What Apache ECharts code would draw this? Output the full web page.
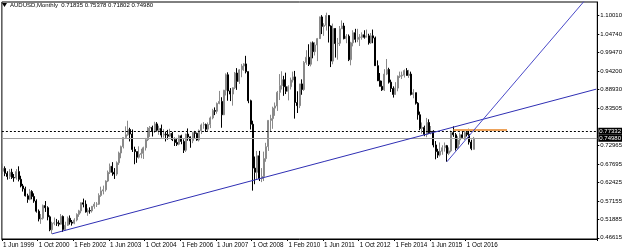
<!DOCTYPE html>
<html>
<head>
<meta charset="utf-8">
<script src="https://cdn.jsdelivr.net/npm/echarts@6/dist/echarts.min.js"></script>
<style>
html, body { margin: 0; padding: 0; background: #fff; }
#main { width: 625px; height: 252px; }
</style>
</head>
<body>
<div id="main"></div>
<script>
// AUDUSD monthly, Jun 1999 .. Jan 2017 (one row per year)
var opens = [
    0.656,0.664,0.650,0.641,0.653,0.638,0.637,
    0.655,0.633,0.614,0.606,0.586,0.576,0.598,0.584,0.571,0.542,0.520,0.522,
    0.558,0.552,0.526,0.489,0.508,0.509,0.508,0.505,0.527,0.490,0.502,0.522,
    0.511,0.508,0.517,0.533,0.543,0.566,0.562,0.540,0.544,0.543,0.556,0.562,
    0.562,0.587,0.600,0.603,0.628,0.653,0.670,0.653,0.648,0.680,0.708,0.726,
    0.752,0.760,0.775,0.762,0.718,0.712,0.696,0.704,0.707,0.723,0.746,0.779,
    0.781,0.771,0.791,0.773,0.778,0.759,0.762,0.760,0.756,0.764,0.746,0.738,
    0.733,0.757,0.741,0.716,0.762,0.754,0.743,0.766,0.764,0.745,0.772,0.788,
    0.789,0.776,0.789,0.808,0.829,0.827,0.849,0.855,0.817,0.887,0.931,0.885,
    0.876,0.894,0.936,0.912,0.945,0.956,0.962,0.940,0.857,0.790,0.665,0.653,
    0.700,0.635,0.641,0.692,0.726,0.801,0.806,0.836,0.842,0.881,0.900,0.917,
    0.897,0.884,0.897,0.916,0.925,0.852,0.843,0.905,0.889,0.966,0.981,0.961,
    1.022,0.997,1.016,1.034,1.096,1.069,1.072,1.100,1.070,0.970,1.063,1.020,
    1.021,1.062,1.070,1.034,1.041,0.974,1.022,1.051,1.032,1.038,1.038,1.045,
    1.038,1.042,1.022,1.042,1.036,0.957,0.914,0.898,0.888,0.933,0.946,0.910,
    0.892,0.875,0.893,0.927,0.928,0.930,0.943,0.929,0.933,0.875,0.880,0.850,
    0.817,0.778,0.781,0.761,0.795,0.766,0.770,0.731,0.712,0.702,0.713,0.723,
    0.729,0.707,0.714,0.766,0.760,0.722,0.745,0.760,0.752,0.766,0.761,0.739,
    0.71835
];
var highs = [
    0.678,0.670,0.656,0.662,0.663,0.648,0.662,
    0.670,0.643,0.620,0.612,0.592,0.605,0.602,0.593,0.576,0.547,0.534,0.561,
    0.571,0.556,0.530,0.512,0.524,0.520,0.516,0.534,0.530,0.512,0.527,0.530,
    0.517,0.522,0.536,0.546,0.567,0.578,0.573,0.550,0.553,0.557,0.568,0.568,
    0.593,0.612,0.615,0.630,0.658,0.678,0.682,0.665,0.684,0.712,0.729,0.753,
    0.784,0.800,0.780,0.775,0.726,0.712,0.727,0.720,0.726,0.751,0.782,0.785,
    0.786,0.797,0.796,0.786,0.789,0.776,0.769,0.774,0.777,0.768,0.752,0.751,
    0.760,0.760,0.747,0.763,0.778,0.755,0.768,0.771,0.766,0.775,0.792,0.796,
    0.792,0.795,0.812,0.834,0.838,0.852,0.885,0.867,0.888,0.935,0.938,0.893,
    0.895,0.939,0.950,0.947,0.962,0.964,0.985,0.940,0.860,0.800,0.698,0.714,
    0.714,0.665,0.712,0.737,0.802,0.817,0.840,0.852,0.885,0.933,0.941,0.928,
    0.937,0.901,0.923,0.940,0.942,0.884,0.905,0.918,0.970,1.001,1.018,1.025,
    1.026,1.024,1.036,1.097,1.101,1.078,1.108,1.101,1.072,1.077,1.064,1.036,
    1.070,1.086,1.079,1.047,1.046,1.025,1.058,1.062,1.062,1.047,1.052,1.058,
    1.060,1.048,1.050,1.060,1.040,0.972,0.936,0.914,0.947,0.976,0.951,0.917,
    0.898,0.910,0.929,0.940,0.940,0.946,0.950,0.945,0.940,0.890,0.880,0.853,
    0.826,0.795,0.786,0.808,0.804,0.785,0.773,0.742,0.720,0.738,0.730,0.738,
    0.731,0.724,0.772,0.784,0.765,0.756,0.766,0.776,0.773,0.773,0.777,0.746,
    0.75378
];
var lows = [
    0.648,0.642,0.632,0.634,0.634,0.626,0.632,
    0.627,0.610,0.598,0.584,0.566,0.573,0.576,0.566,0.538,0.513,0.506,0.518,
    0.540,0.516,0.485,0.4775,0.502,0.500,0.499,0.504,0.483,0.487,0.500,0.504,
    0.501,0.505,0.513,0.526,0.536,0.553,0.538,0.529,0.535,0.538,0.549,0.554,
    0.560,0.583,0.590,0.598,0.625,0.648,0.643,0.634,0.643,0.674,0.693,0.721,
    0.750,0.757,0.741,0.711,0.676,0.680,0.692,0.693,0.691,0.715,0.742,0.754,
    0.755,0.765,0.769,0.760,0.752,0.752,0.741,0.746,0.753,0.742,0.728,0.728,
    0.730,0.733,0.708,0.711,0.743,0.723,0.736,0.751,0.743,0.741,0.762,0.777,
    0.768,0.770,0.779,0.804,0.816,0.820,0.847,0.780,0.816,0.872,0.857,0.856,
    0.843,0.890,0.888,0.905,0.924,0.942,0.935,0.850,0.775,0.6007,0.619,0.632,
    0.628,0.625,0.628,0.683,0.714,0.770,0.777,0.814,0.828,0.859,0.889,0.871,
    0.876,0.858,0.889,0.909,0.806,0.822,0.836,0.874,0.885,0.960,0.956,0.955,
    0.978,0.986,0.970,1.033,1.047,1.042,1.057,1.023,0.953,0.961,0.980,0.974,
    1.013,1.062,1.032,1.021,0.970,0.958,1.012,1.023,1.024,1.013,1.031,1.034,
    1.038,1.017,1.019,1.021,0.956,0.913,0.898,0.885,0.885,0.930,0.906,0.882,
    0.866,0.874,0.884,0.922,0.919,0.923,0.929,0.922,0.872,0.864,0.846,0.803,
    0.773,0.763,0.756,0.753,0.762,0.761,0.724,0.690,0.694,0.698,0.703,0.712,
    0.683,0.702,0.710,0.754,0.715,0.718,0.732,0.749,0.745,0.755,0.732,0.716,
    0.71802
];
var closes = [
    0.664,0.650,0.641,0.653,0.638,0.637,0.655,
    0.633,0.614,0.606,0.586,0.576,0.598,0.584,0.571,0.542,0.520,0.522,0.558,
    0.552,0.526,0.489,0.508,0.509,0.508,0.505,0.527,0.490,0.502,0.522,0.511,
    0.508,0.517,0.533,0.543,0.566,0.562,0.540,0.544,0.543,0.556,0.562,0.562,
    0.587,0.600,0.603,0.628,0.653,0.670,0.653,0.648,0.680,0.708,0.726,0.752,
    0.760,0.775,0.762,0.718,0.712,0.696,0.704,0.707,0.723,0.746,0.779,0.781,
    0.771,0.791,0.773,0.778,0.759,0.762,0.760,0.756,0.764,0.746,0.738,0.733,
    0.757,0.741,0.716,0.762,0.754,0.743,0.766,0.764,0.745,0.772,0.788,0.789,
    0.776,0.789,0.808,0.829,0.827,0.849,0.855,0.817,0.887,0.931,0.885,0.876,
    0.894,0.936,0.912,0.945,0.956,0.962,0.940,0.857,0.790,0.665,0.653,0.700,
    0.635,0.641,0.692,0.726,0.801,0.806,0.836,0.842,0.881,0.900,0.917,0.897,
    0.884,0.897,0.916,0.925,0.852,0.843,0.905,0.889,0.966,0.981,0.961,1.022,
    0.997,1.016,1.034,1.096,1.069,1.072,1.100,1.070,0.970,1.063,1.020,1.021,
    1.062,1.070,1.034,1.041,0.974,1.022,1.051,1.032,1.038,1.038,1.045,1.038,
    1.042,1.022,1.042,1.036,0.957,0.914,0.898,0.888,0.933,0.946,0.910,0.892,
    0.875,0.893,0.927,0.928,0.930,0.943,0.929,0.933,0.875,0.880,0.850,0.817,
    0.778,0.781,0.761,0.795,0.766,0.770,0.731,0.712,0.702,0.713,0.723,0.729,
    0.707,0.714,0.766,0.760,0.722,0.745,0.760,0.752,0.766,0.761,0.739,0.721,
    0.74980
];

var xTickLabels = ['1 Jun 1999', '1 Oct 2000', '1 Feb 2002', '1 Jun 2003', '1 Oct 2004',
    '1 Feb 2006', '1 Jun 2007', '1 Oct 2008', '1 Feb 2010', '1 Jun 2011',
    '1 Oct 2012', '1 Feb 2014', '1 Jun 2015', '1 Oct 2016'];
var yTickLabels = [1.10010, 1.04740, 0.99470, 0.94200, 0.88930, 0.83505,
    0.72965, 0.67695, 0.62425, 0.57155, 0.51885, 0.46615];

// drawn objects on the chart
var trendLong = [['1 Apr 2001', 0.4775], ['1 Aug 2021', 0.890]];
var trendSteep = [['1 Jan 2016', 0.6827], ['1 Aug 2021', 1.181]];
var orangeLevel = [['1 Apr 2016', 0.7733], ['1 Apr 2018', 0.7733]];
var dottedLevel = 0.77332;
var bidLevel = 0.74980;

// month axis, with empty space to the right of the last bar
var monthNames = ['Jan', 'Feb', 'Mar', 'Apr', 'May', 'Jun', 'Jul', 'Aug', 'Sep', 'Oct', 'Nov', 'Dec'];
var categories = [];
for (var i = 0; i < 267; i++) {
    var m = 5 + i;
    categories.push('1 ' + monthNames[m % 12] + ' ' + (1999 + Math.floor(m / 12)));
}

var ohlc = [];
for (var j = 0; j < closes.length; j++) {
    ohlc.push([opens[j], closes[j], lows[j], highs[j]]);
}

var font = 'Liberation Sans';
var showTick = function (idx, val) { return xTickLabels.indexOf(val) >= 0; };

var myChart = echarts.init(document.getElementById('main'));
var option = {
    animation: false,
    backgroundColor: '#fff',
    grid: {
        left: 0.5, right: 24, top: 2, bottom: 13,
        show: true, borderColor: '#000', borderWidth: 1, backgroundColor: '#fff'
    },
    graphic: [
        { type: 'polygon', shape: { points: [[2, 3], [7, 3], [4.5, 7]] }, style: { fill: '#000' } },
        {
            type: 'text', left: 10, top: 2,
            style: { text: 'AUDUSD,Monthly  0.71835 0.75378 0.71802 0.74980', font: '6px "' + font + '"', fill: '#000' }
        }
    ],
    xAxis: {
        type: 'category',
        data: categories,
        boundaryGap: true,
        axisLine: { show: true, lineStyle: { color: '#000', width: 1 } },
        axisTick: { show: true, interval: showTick, length: 2, lineStyle: { color: '#000' } },
        axisLabel: {
            interval: showTick, align: 'left', margin: 3,
            fontSize: 6.3, fontFamily: font, color: '#000'
        },
        splitLine: { show: false }
    },
    yAxis: {
        type: 'value',
        position: 'right',
        min: 0.4628,
        max: 1.1385,
        axisLine: { show: true, lineStyle: { color: '#000', width: 1 } },
        axisTick: { show: true, length: 2, customValues: yTickLabels, lineStyle: { color: '#000' } },
        axisLabel: {
            customValues: yTickLabels, margin: 3,
            fontSize: 6, fontFamily: font, color: '#000',
            formatter: function (v) { return v.toFixed(5); }
        },
        splitLine: { show: false }
    },
    series: [
        {
            type: 'candlestick',
            data: ohlc,
            barWidth: 1.5,
            itemStyle: {
                color: '#a0a0a0', borderColor: '#8a8a8a',
                color0: '#000', borderColor0: '#000', borderWidth: 1
            },
            markLine: {
                silent: true,
                symbol: 'none',
                data: [
                    {
                        yAxis: dottedLevel,
                        lineStyle: { color: '#000', type: [2, 2], width: 1 },
                        label: {
                            position: 'end', distance: 1, formatter: dottedLevel.toFixed(5),
                            backgroundColor: '#000', color: '#fff', padding: [1, 1, 0, 1],
                            fontSize: 6, fontFamily: font
                        }
                    },
                    {
                        yAxis: bidLevel,
                        lineStyle: { color: '#a0a0a0', type: 'solid', width: 1 },
                        label: {
                            position: 'end', distance: 1, formatter: bidLevel.toFixed(5),
                            backgroundColor: '#000', color: '#fff', padding: [1, 1, 0, 1],
                            fontSize: 6, fontFamily: font
                        }
                    }
                ]
            }
        },
        {
            type: 'line', data: orangeLevel, symbol: 'none', silent: true, z: 4,
            lineStyle: { color: '#eda25a', width: 2 }
        },
        {
            type: 'line', data: trendLong, symbol: 'none', silent: true, z: 5, clip: true,
            lineStyle: { color: '#2f2fb4', width: 1 }
        },
        {
            type: 'line', data: trendSteep, symbol: 'none', silent: true, z: 5, clip: true,
            lineStyle: { color: '#4a4ac8', width: 1 }
        }
    ]
};
myChart.setOption(option);
</script>
</body>
</html>
